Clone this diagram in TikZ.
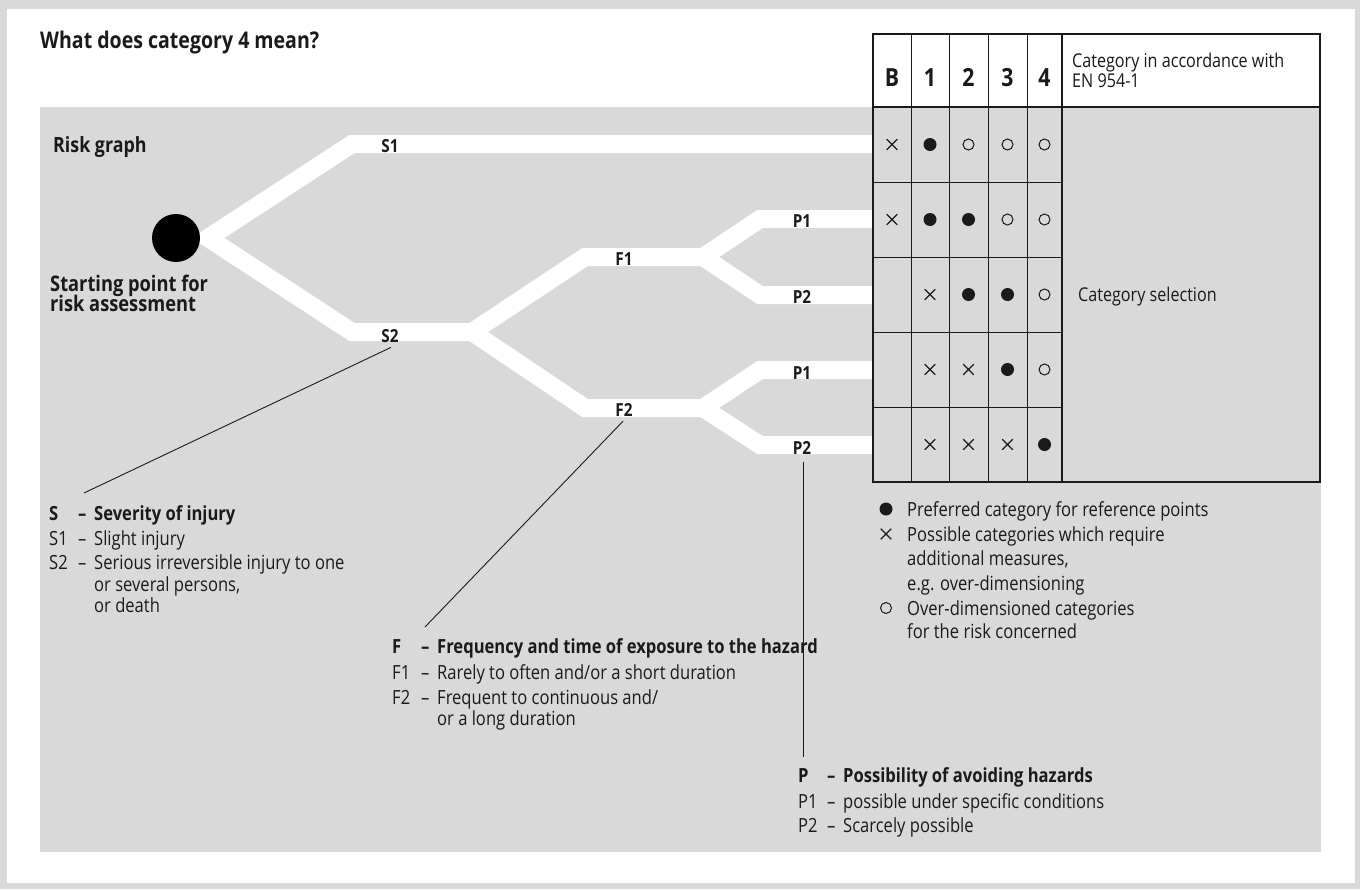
\documentclass[tikz,border=0pt]{standalone}
\usepackage{fontspec}
\setmainfont{Open Sans}[FakeStretch=0.85]
\usetikzlibrary{shapes.misc,calc}
\definecolor{panel}{HTML}{D9D9D9}
\definecolor{ink}{HTML}{1A1A1A}
\begin{document}
\begin{tikzpicture}[x=1pt,y=-1pt,
  branch/.style={draw=white, line width=18pt, line join=miter, line cap=butt},
  lbl/.style={font=\fontsize{18}{18}\selectfont\bfseries, anchor=base, inner sep=0, text=ink},
  txt/.style={font=\fontsize{19.5}{20}\selectfont, anchor=base west, inner sep=0, text=ink},
  btxt/.style={txt, font=\fontsize{19.5}{20}\selectfont\bfseries},
  head/.style={font=\fontsize{25}{25}\selectfont\bfseries, anchor=base, inner sep=0, text=ink},
  leader/.style={draw=ink, line width=0.9pt},
  grid/.style={draw=ink, line width=1pt},
  frame/.style={draw=ink, line width=1.6pt},
  symd/.style={circle, fill=ink, minimum size=13pt, inner sep=0},
  symo/.style={circle, draw=ink, line width=1pt, minimum size=11pt, inner sep=0},
  symx/.style={cross out, draw=ink, line width=1.1pt, minimum size=9.5pt, inner sep=0}]
\useasboundingbox (0,0) rectangle (1360,889);
% background
\fill[panel] (0,0) rectangle (1360,889);
\fill[white] (7,9) rectangle (1355,883);
\fill[panel] (40,107) rectangle (1321,852);
% title
\node[anchor=base west, inner sep=0, text=ink, font=\fontsize{23}{23}\selectfont\bfseries] (title) at (40,48) {What does category 4 mean?};
\node[anchor=base west, inner sep=0, text=ink, font=\fontsize{21}{21}\selectfont\bfseries] (risk) at (53,152) {Risk graph};
\node[anchor=base west, inner sep=0, text=ink, font=\fontsize{21.5}{21.5}\selectfont\bfseries] (start1) at (50,291) {Starting point for};
\node[anchor=base west, inner sep=0, text=ink, font=\fontsize{21.5}{21.5}\selectfont\bfseries] (start2) at (50,311) {risk assessment};
% branches
\coordinate (j0) at (208,238);
\coordinate (jS) at (472,332);
\coordinate (jF1) at (703,257);
\coordinate (jF2) at (703,408);
\draw[branch] (873,144) -- (352,144) -- (j0) -- (352,332) -- (jS);
\draw[branch] (jF1) -- (585,257) -- (jS) -- (585,408) -- (jF2);
\draw[branch] (873,219) -- (760,219) -- (jF1) -- (760,295) -- (873,295);
\draw[branch] (873,370) -- (760,370) -- (jF2) -- (760,445) -- (873,445);
\node[circle, fill=black, minimum size=48pt, inner sep=0] (start) at (176,238) {};
% branch labels
\node[lbl] (lS1) at (390,152) {S1};
\node[lbl] (lS2) at (390,342) {S2};
\node[lbl] (lF1) at (624,265) {F1};
\node[lbl] (lF2) at (624,416) {F2};
\node[lbl] (lP1a) at (802,227) {P1};
\node[lbl] (lP2a) at (802,303) {P2};
\node[lbl] (lP1b) at (802,379) {P1};
\node[lbl] (lP2b) at (802,454) {P2};
% table
\foreach \x in {911,949,988,1027} \draw[grid] (\x,34) -- (\x,482);
\foreach \y in {182,257,332,407} \draw[grid] (873,\y) -- (1062,\y);
\draw[frame] (1062,34) -- (1062,482);
\draw[frame] (873,107) -- (1320,107);
\draw[frame] (873,34) rectangle (1320,482);
\node[head] (hB) at (892,86) {B};
\node[head] (h1) at (930,86) {1};
\node[head] (h2) at (968.5,86) {2};
\node[head] (h3) at (1007.5,86) {3};
\node[head] (h4) at (1044.5,86) {4};
\node[txt, font=\fontsize{19}{19}\selectfont] (cat1) at (1072,67) {Category in accordance with};
\node[txt, font=\fontsize{19}{19}\selectfont] (cat2) at (1072,87) {EN 954-1};
\node[txt, font=\fontsize{19}{19}\selectfont] (catsel) at (1078,301) {Category selection};
% symbols
\foreach \s/\cx [count=\c] in {x/892,d/930,o/968.5,o/1007.5,o/1044.5} \node[sym\s] (r1c\c) at (\cx,144.5) {};
\foreach \s/\cx [count=\c] in {x/892,d/930,d/968.5,o/1007.5,o/1044.5} \node[sym\s] (r2c\c) at (\cx,219.5) {};
\foreach \s/\cx [count=\c from 2] in {x/930,d/968.5,d/1007.5,o/1044.5} \node[sym\s] (r3c\c) at (\cx,294.5) {};
\foreach \s/\cx [count=\c from 2] in {x/930,x/968.5,d/1007.5,o/1044.5} \node[sym\s] (r4c\c) at (\cx,369.5) {};
\foreach \s/\cx [count=\c from 2] in {x/930,x/968.5,x/1007.5,d/1044.5} \node[sym\s] (r5c\c) at (\cx,444.5) {};
% table legend
\node[symd] (kd) at (886,509) {};
\node[symx] (kx) at (886,534) {};
\node[symo] (ko) at (886,608) {};
\node[txt] (k1) at (907,516) {Preferred category for reference points};
\node[txt] (k2) at (907,541) {Possible categories which require};
\node[txt] (k3) at (907,565) {additional measures,};
\node[txt] (k4) at (907,590) {e.g. over-dimensioning};
\node[txt] (k5) at (907,615) {Over-dimensioned categories};
\node[txt] (k6) at (907,638) {for the risk concerned};
% S legend
\node[btxt] (sA) at (49,520) {S};
\node[btxt] (sB) at (78,520) {\textendash};
\node[btxt] (sC) at (94,520) {Severity of injury};
\node[txt] (s1A) at (49,545) {S1};
\node[txt] (s1B) at (78,545) {\textendash};
\node[txt] (s1C) at (94,545) {Slight injury};
\node[txt] (s2A) at (49,569) {S2};
\node[txt] (s2B) at (78,569) {\textendash};
\node[txt] (s2C) at (94,569) {Serious irreversible injury to one};
\node[txt] (s2D) at (94,591) {or several persons,};
\node[txt] (s2E) at (94,612) {or death};
% F legend
\node[btxt] (fA) at (392,653) {F};
\node[btxt] (fB) at (421,653) {\textendash};
\node[btxt] (fC) at (437,653) {Frequency and time of exposure to the hazard};
\node[txt] (f1A) at (392,679) {F1};
\node[txt] (f1B) at (421,679) {\textendash};
\node[txt] (f1C) at (437,679) {Rarely to often and/or a short duration};
\node[txt] (f2A) at (392,704) {F2};
\node[txt] (f2B) at (421,704) {\textendash};
\node[txt] (f2C) at (437,704) {Frequent to continuous and/};
\node[txt] (f2D) at (437,725) {or a long duration};
% P legend
\node[btxt] (pA) at (798,782) {P};
\node[btxt] (pB) at (827,782) {\textendash};
\node[btxt] (pC) at (843,782) {Possibility of avoiding hazards};
\node[txt] (p1A) at (798,808) {P1};
\node[txt] (p1B) at (827,808) {\textendash};
\node[txt] (p1C) at (843,808) {possible under specific conditions};
\node[txt] (p2A) at (798,832) {P2};
\node[txt] (p2B) at (827,832) {\textendash};
\node[txt] (p2C) at (843,832) {Scarcely possible};
% leaders
\coordinate (sEnd) at (84,493);
\coordinate (fEnd) at (425,627);
\coordinate (pEnd) at (803,757);
\draw[leader] ($(lS2.south)+(1,5)$) -- (sEnd);
\draw[leader] ($(lF2.south)+(-1,5)$) -- (fEnd);
\draw[leader] ($(lP2b.south)+(1,8)$) -- (pEnd);
\end{tikzpicture}
\end{document}
